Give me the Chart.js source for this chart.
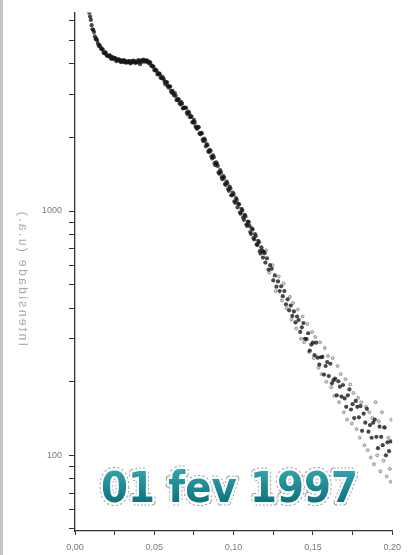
<!DOCTYPE html>
<html>
<head>
<meta charset="utf-8">
<script src="https://cdn.jsdelivr.net/npm/chart.js@4/dist/chart.umd.min.js"></script>
<style>
  html, body { margin: 0; padding: 0; background: #fff; }
  #wrap { position: relative; width: 408px; height: 555px; }
  #edge { position: absolute; left: 0; top: 0; width: 3px; height: 555px; background: #c4c4c4; }
</style>
</head>
<body>
<div id="wrap">
  <canvas id="myChart" width="408" height="555"></canvas>
  <div id="edge"></div>
</div>
<script>
// scattering vector (x) and intensity (y)
const qValues = [
  0.009, 0.010, 0.011, 0.012, 0.013, 0.014, 0.015, 0.016, 0.017, 0.018, 0.019, 0.020,
  0.021, 0.022, 0.023, 0.024, 0.025, 0.026, 0.027, 0.028, 0.029, 0.030, 0.031, 0.032,
  0.033, 0.034, 0.035, 0.036, 0.037, 0.038, 0.039, 0.040, 0.041, 0.042, 0.043, 0.044,
  0.045, 0.046, 0.047, 0.048, 0.049, 0.050, 0.051, 0.052, 0.053, 0.054, 0.055, 0.056,
  0.057, 0.058, 0.059, 0.060, 0.061, 0.062, 0.063, 0.064, 0.065, 0.066, 0.067, 0.068,
  0.069, 0.070, 0.071, 0.072, 0.073, 0.074, 0.075, 0.076, 0.077, 0.078, 0.079, 0.080,
  0.081, 0.082, 0.083, 0.084, 0.085, 0.086, 0.087, 0.088, 0.089, 0.090, 0.091, 0.092,
  0.093, 0.094, 0.095, 0.096, 0.097, 0.098, 0.099, 0.100, 0.101, 0.102, 0.103, 0.104,
  0.105, 0.106, 0.107, 0.108, 0.109, 0.110, 0.111, 0.112, 0.113, 0.114, 0.115, 0.116,
  0.117, 0.118, 0.119, 0.120, 0.121, 0.122, 0.123, 0.124, 0.125, 0.126, 0.127, 0.128,
  0.129, 0.130, 0.131, 0.132, 0.133, 0.134, 0.135, 0.136, 0.137, 0.138, 0.139, 0.140,
  0.141, 0.142, 0.143, 0.144, 0.145, 0.146, 0.147, 0.148, 0.149, 0.150, 0.151, 0.152,
  0.153, 0.154, 0.155, 0.156, 0.157, 0.158, 0.159, 0.160, 0.161, 0.162, 0.163, 0.164,
  0.165, 0.166, 0.167, 0.168, 0.169, 0.170, 0.171, 0.172, 0.173, 0.174, 0.175, 0.176,
  0.177, 0.178, 0.179, 0.180, 0.181, 0.182, 0.183, 0.184, 0.185, 0.186, 0.187, 0.188,
  0.189, 0.190, 0.191, 0.192, 0.193, 0.194, 0.195, 0.196, 0.197, 0.198, 0.199
];
const intensity = [
  6480, 6060, 5540, 5400, 5060, 4980, 4740, 4700, 4610, 4440, 4470, 4330,
  4300, 4340, 4190, 4250, 4230, 4110, 4170, 4160, 4070, 4120, 4150, 4050,
  4060, 4110, 4020, 4090, 4130, 4040, 4070, 4150, 3990, 4120, 4170, 4090,
  4140, 4050, 4080, 3950, 3920, 3780, 3790, 3630, 3660, 3510, 3540, 3460,
  3300, 3360, 3200, 3230, 3050, 3020, 3040, 2850, 2880, 2760, 2790, 2630,
  2650, 2640, 2490, 2520, 2450, 2310, 2360, 2220, 2170, 2200, 2060, 2080,
  1930, 1950, 1880, 1760, 1780, 1670, 1690, 1570, 1580, 1530, 1420, 1440,
  1350, 1370, 1280, 1300, 1210, 1235, 1160, 1170, 1080, 1110, 1070, 985,
  1020, 940, 965, 880, 905, 870, 805, 840, 765, 790, 725, 745,
  670, 690, 680, 615, 640, 575, 600, 580, 520, 545, 490, 515,
  470, 492, 448, 470, 415, 435, 392, 410, 372, 388, 350, 370,
  358, 320, 334, 348, 300, 299, 316, 268, 284, 289, 257, 289,
  251, 235, 252, 253, 214, 232, 241, 211, 237, 197, 203, 206,
  176, 201, 191, 174, 194, 171, 158, 176, 186, 154, 162, 142,
  167, 158, 143, 159, 126, 148, 136, 155, 125, 133, 118, 136,
  140, 119, 107, 131, 119, 110, 130, 100, 113, 104, 114
];

// in-between readings where the trace is dense
const qHalf = [
  0.0095, 0.0105, 0.0115, 0.0125, 0.0135, 0.0145, 0.0155, 0.0165, 0.0175, 0.0185,
  0.0195, 0.0205, 0.0215, 0.0225, 0.0235, 0.0245, 0.0255, 0.0265, 0.0275, 0.0285,
  0.0295, 0.0305, 0.0315, 0.0325, 0.0335, 0.0345, 0.0355, 0.0365, 0.0375, 0.0385,
  0.0395, 0.0405, 0.0415, 0.0425, 0.0435, 0.0445, 0.0455, 0.0465, 0.0475, 0.0485,
  0.0495, 0.0505, 0.0515, 0.0525, 0.0535, 0.0545, 0.0555, 0.0565, 0.0575, 0.0585,
  0.0595, 0.0605, 0.0615, 0.0625, 0.0635, 0.0645, 0.0655, 0.0665, 0.0675, 0.0685,
  0.0695, 0.0705, 0.0715, 0.0725, 0.0735, 0.0745, 0.0755, 0.0765, 0.0775, 0.0785,
  0.0795, 0.0805, 0.0815, 0.0825, 0.0835, 0.0845, 0.0855, 0.0865, 0.0875, 0.0885,
  0.0895, 0.0905, 0.0915, 0.0925, 0.0935, 0.0945, 0.0955, 0.0965, 0.0975, 0.0985,
  0.0995, 0.1005, 0.1015, 0.1025, 0.1035, 0.1045, 0.1055, 0.1065, 0.1075, 0.1085,
  0.1095, 0.1105, 0.1115, 0.1125, 0.1135, 0.1145, 0.1155, 0.1165, 0.1175, 0.1185,
  0.1195
];
const intensityHalf = [
  6250, 5760, 5510, 5190, 5060, 4840, 4780, 4600, 4580, 4420,
  4430, 4310, 4330, 4230, 4270, 4180, 4220, 4130, 4180, 4090,
  4140, 4070, 4120, 4060, 4100, 4050, 4110, 4060, 4100, 4050,
  4110, 4060, 4130, 4080, 4150, 4100, 4130, 4040, 4040, 3910,
  3890, 3760, 3740, 3620, 3630, 3500, 3500, 3370, 3370, 3250,
  3240, 3100, 3100, 2970, 2960, 2840, 2850, 2730, 2750, 2640,
  2650, 2530, 2550, 2420, 2430, 2300, 2310, 2190, 2210, 2080,
  2090, 1960, 1980, 1840, 1860, 1740, 1760, 1640, 1660, 1540,
  1560, 1440, 1470, 1370, 1390, 1290, 1320, 1230, 1260, 1160,
  1190, 1095, 1130, 1035, 1065, 975, 1005, 920, 950, 870,
  900, 820, 850, 775, 805, 730, 755, 685, 710, 645,
  672
];

// looser, fainter points of the noisy tail
const tailQ = [
  0.1205, 0.1225, 0.1245, 0.1265, 0.1285, 0.1305, 0.1315, 0.1335, 0.1355, 0.1365,
  0.1375, 0.1395, 0.1405, 0.1425, 0.1435, 0.1445, 0.1465, 0.1475, 0.1495, 0.1505,
  0.1515, 0.1535, 0.1545, 0.1555, 0.1575, 0.1585, 0.1595, 0.1615, 0.1625, 0.1635,
  0.1655, 0.1665, 0.1675, 0.1695, 0.1705, 0.1715, 0.1735, 0.1745, 0.1755, 0.1775,
  0.1785, 0.1795, 0.1805, 0.1825, 0.1835, 0.1845, 0.1855, 0.1865, 0.1875, 0.1885,
  0.1895, 0.1905, 0.1915, 0.1925, 0.1935, 0.1945, 0.1955, 0.1965, 0.1975, 0.1985,
  0.1995, 0.1990
];
const tailIntensity = [
  690, 560, 600, 470, 540, 430, 505, 400, 445, 360,
  420, 330, 395, 300, 370, 290, 345, 265, 320, 250,
  305, 228, 290, 215, 275, 200, 255, 190, 250, 175,
  232, 165, 215, 150, 205, 140, 195, 135, 180, 128,
  172, 118, 165, 110, 158, 105, 150, 98, 142, 92,
  165, 100, 138, 86, 150, 95, 130, 82, 118, 88,
  140, 78
];

const xTickValues = [0, 0.025, 0.05, 0.075, 0.10, 0.125, 0.15, 0.175, 0.20];
const yTickValues = [50, 60, 70, 80, 90, 100, 200, 300, 400, 500, 600, 700, 800, 900,
  1000, 2000, 3000, 4000, 5000, 6000];
const yLabelled = [100, 1000];
const yTitle = "Intensidade (u.a.)";
const stamp = "01 fev 1997";

const mainPts = qValues.map((q, i) => ({ x: q, y: intensity[i] }));
const halfPts = qHalf.map((q, i) => ({ x: q, y: intensityHalf[i] }));
const tailPts = tailQ.map((q, i) => ({ x: q, y: tailIntensity[i] }));

// y title drawn mirrored, as in the scanned figure
const mirrorTitle = {
  id: "mirrorTitle",
  afterDraw(chart) {
    const c = chart.ctx;
    const a = chart.chartArea;
    c.save();
    c.translate(22, (a.top + a.bottom) / 2 + 6);
    c.rotate(-Math.PI / 2);
    c.scale(1, -1);
    c.font = "12px 'Liberation Sans'";
    c.letterSpacing = "2.4px";
    c.fillStyle = "#a8a8a8";
    c.textAlign = "center";
    c.textBaseline = "middle";
    c.fillText(yTitle, 0, 0);
    c.restore();
  }
};

// big teal date stamp with white halo
const stampPlugin = {
  id: "stamp",
  afterDraw(chart) {
    const c = chart.ctx;
    c.save();
    c.translate(101, 502);
    c.scale(0.9, 1);
    c.font = "bold 43px 'DejaVu Sans'";
    c.textAlign = "left";
    c.textBaseline = "alphabetic";
    c.lineJoin = "round";
    c.setLineDash([2, 2]);
    c.strokeStyle = "#9a9a9a";
    c.lineWidth = 7;
    c.strokeText(stamp, 0, 0);
    c.setLineDash([]);
    c.strokeStyle = "#ffffff";
    c.lineWidth = 5;
    c.strokeText(stamp, 0, 0);
    const g = c.createLinearGradient(0, -32, 0, 0);
    g.addColorStop(0, "#33a2ac");
    g.addColorStop(1, "#0c737e");
    c.fillStyle = g;
    c.fillText(stamp, 0, 0);
    c.restore();
  }
};

const ctx = document.getElementById("myChart").getContext("2d");

const config = {
  type: "scatter",
  data: {
    datasets: [
      {
        label: "main",
        data: mainPts,
        pointRadius: 2.1,
        pointBorderWidth: 0,
        backgroundColor: "rgba(20,20,20,0.78)",
      },
      {
        label: "half",
        data: halfPts,
        pointRadius: 2.1,
        pointBorderWidth: 0,
        backgroundColor: "rgba(20,20,20,0.78)",
      },
      {
        label: "tail",
        data: tailPts,
        pointRadius: 1.5,
        pointBorderWidth: 0.8,
        borderColor: "rgba(70,70,70,0.6)",
        backgroundColor: "rgba(140,140,140,0.35)",
      },
    ],
  },
  options: {
    responsive: false,
    animation: false,
    devicePixelRatio: 1,
    layout: { padding: { left: 0, right: 11, top: 12, bottom: 0 } },
    scales: {
      x: {
        type: "linear",
        min: 0,
        max: 0.2,
        afterBuildTicks: (scale) => {
          scale.ticks = xTickValues.map((v) => ({ value: v }));
        },
        afterFit: (scale) => {
          scale.height = 24;
        },
        ticks: {
          autoSkip: false,
          maxRotation: 0,
          color: "#7a7a7a",
          font: { family: "Liberation Sans", size: 9 },
          padding: 7,
          callback: (v) => {
            const k = Math.round(v * 1000);
            return k % 50 === 0 ? (k / 1000).toFixed(2).replace(".", ",") : "";
          },
        },
        grid: {
          drawOnChartArea: false,
          tickLength: 4,
          tickColor: "#333",
        },
        border: { color: "#333", width: 1.3 },
      },
      y: {
        type: "logarithmic",
        min: 49,
        max: 6500,
        afterBuildTicks: (scale) => {
          scale.ticks = yTickValues.map((v) => ({ value: v }));
        },
        afterFit: (scale) => {
          scale.width = 75;
        },
        ticks: {
          autoSkip: false,
          color: "#7a7a7a",
          font: { family: "Liberation Sans", size: 9 },
          padding: 7,
          callback: (v) => (yLabelled.includes(v) ? String(v) : ""),
        },
        grid: {
          drawOnChartArea: false,
          tickLength: 6,
          tickColor: "#333",
        },
        border: { color: "#333", width: 1.3 },
      },
    },
    plugins: {
      legend: { display: false },
      tooltip: { enabled: false },
    },
  },
  plugins: [mirrorTitle, stampPlugin],
};

const intensityChart = new Chart(ctx, config);
</script>
</body>
</html>
